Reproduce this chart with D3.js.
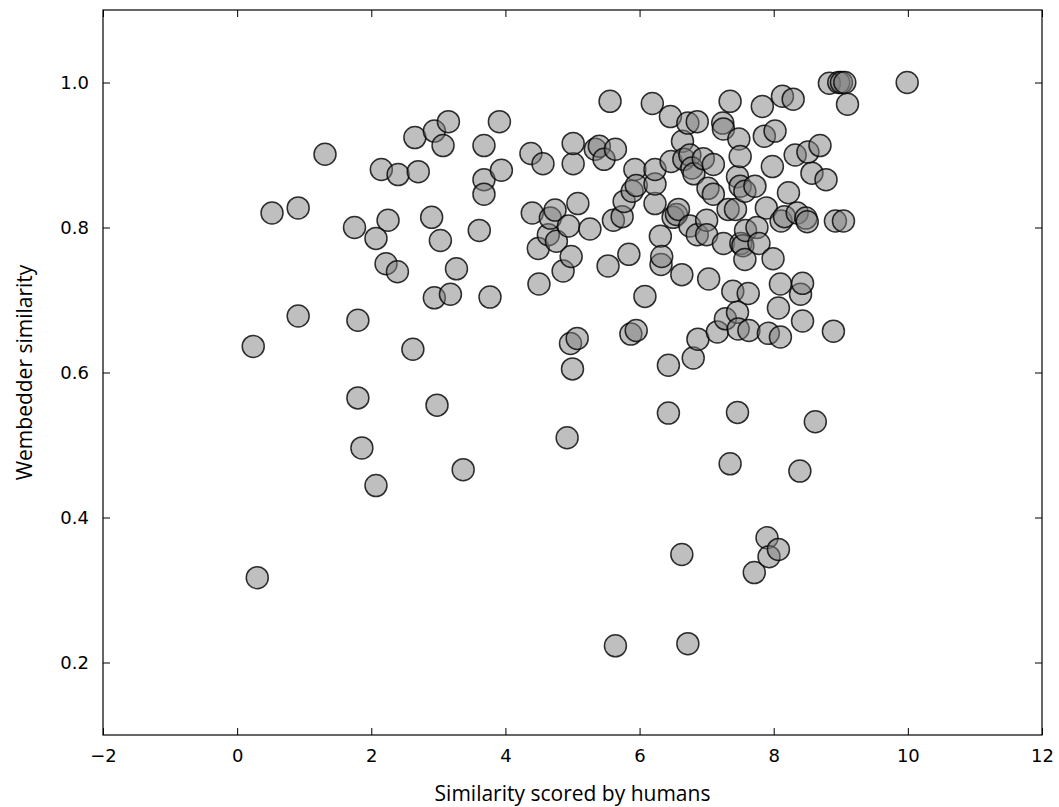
<!DOCTYPE html>
<html>
<head>
<meta charset="utf-8">
<script src="https://cdn.jsdelivr.net/npm/d3@7"></script>
<style>
  body { margin: 0; background: #fff; }
  .tick-label { font-family: "DejaVu Sans", sans-serif; font-size: 18px; fill: #000; }
  .axis-title { font-family: "Open Sans", sans-serif; font-size: 21px; fill: #000; }
</style>
</head>
<body>
<div id="chart"></div>
<script>
// data
const humanScores = [
  0.24, 0.30, 0.52, 0.91, 0.91, 1.31, 1.75, 1.80, 1.80, 1.86, 2.07, 2.07, 2.15, 2.22, 2.25, 2.39, 2.40, 2.70,
  2.62, 2.65, 2.90, 2.94, 2.94, 2.98, 3.03, 3.07, 3.15, 3.18, 3.27, 3.37, 3.61, 3.68, 3.68, 3.68, 3.77, 3.91,
  3.94, 4.38, 4.40, 4.49, 4.50, 4.56, 4.64, 4.67, 4.74, 4.76, 4.86, 4.92, 4.94, 4.97, 4.98, 5.00, 5.01, 5.01,
  5.07, 5.08, 5.26, 5.34, 5.40, 5.47, 5.53, 5.56, 5.61, 5.64, 5.64, 5.74, 5.77, 5.84, 5.87, 5.89, 5.93, 5.95,
  5.95, 6.08, 6.19, 6.23, 6.23, 6.23, 6.31, 6.32, 6.33, 6.43, 6.43, 6.46, 6.47, 6.50, 6.55, 6.58, 6.63, 6.63,
  6.64, 6.66, 6.72, 6.72, 6.75, 6.75, 6.78, 6.80, 6.81, 6.86, 6.86, 6.87, 6.95, 7.00, 7.00, 7.02, 7.03, 7.10,
  7.10, 7.16, 7.24, 7.25, 7.25, 7.28, 7.32, 7.35, 7.35, 7.39, 7.43, 7.46, 7.46, 7.46, 7.47, 7.48, 7.50, 7.50,
  7.51, 7.54, 7.57, 7.57, 7.58, 7.62, 7.63, 7.71, 7.72, 7.75, 7.78, 7.83, 7.86, 7.89, 7.90, 7.92, 7.93, 7.98,
  7.99, 8.02, 8.07, 8.07, 8.10, 8.10, 8.11, 8.13, 8.16, 8.22, 8.29, 8.32, 8.35, 8.39, 8.40, 8.43, 8.43, 8.48,
  8.50, 8.51, 8.57, 8.62, 8.69, 8.78, 8.83, 8.89, 8.92, 8.97, 9.01, 9.06, 9.04, 9.10, 9.99
];
const wembedderScores = [
  0.636, 0.317, 0.820, 0.827, 0.678, 0.901, 0.800, 0.672, 0.565, 0.496, 0.444, 0.785, 0.880, 0.750, 0.810, 0.739, 0.873, 0.877,
  0.632, 0.924, 0.814, 0.933, 0.703, 0.555, 0.782, 0.913, 0.946, 0.708, 0.743, 0.466, 0.796, 0.913, 0.866, 0.846, 0.704, 0.946,
  0.879, 0.902, 0.820, 0.771, 0.722, 0.888, 0.790, 0.813, 0.824, 0.781, 0.740, 0.510, 0.802, 0.640, 0.760, 0.605, 0.888, 0.916,
  0.647, 0.833, 0.798, 0.908, 0.912, 0.894, 0.747, 0.974, 0.810, 0.908, 0.223, 0.815, 0.836, 0.763, 0.653, 0.850, 0.880, 0.858,
  0.658, 0.705, 0.971, 0.833, 0.860, 0.880, 0.788, 0.749, 0.760, 0.610, 0.544, 0.953, 0.891, 0.814, 0.818, 0.825, 0.735, 0.349,
  0.919, 0.894, 0.944, 0.226, 0.802, 0.900, 0.882, 0.620, 0.874, 0.946, 0.790, 0.646, 0.895, 0.810, 0.790, 0.854, 0.729, 0.887,
  0.846, 0.656, 0.944, 0.936, 0.778, 0.674, 0.825, 0.974, 0.474, 0.712, 0.825, 0.870, 0.683, 0.545, 0.660, 0.922, 0.898, 0.857,
  0.778, 0.775, 0.850, 0.756, 0.796, 0.709, 0.658, 0.324, 0.857, 0.800, 0.778, 0.967, 0.926, 0.827, 0.372, 0.654, 0.346, 0.884,
  0.757, 0.933, 0.356, 0.689, 0.722, 0.649, 0.809, 0.981, 0.815, 0.848, 0.977, 0.900, 0.820, 0.464, 0.708, 0.723, 0.671, 0.813,
  0.808, 0.904, 0.875, 0.532, 0.913, 0.866, 0.999, 0.657, 0.809, 1.000, 1.000, 1.000, 0.809, 0.970, 1.000
];
const xTicks = [-2, 0, 2, 4, 6, 8, 10, 12];
const yTicks = [0.2, 0.4, 0.6, 0.8, 1.0];

const width = 1059, height = 807;
const margin = { top: 10, right: 17, bottom: 72, left: 103 };
const innerW = width - margin.left - margin.right;
const innerH = height - margin.top - margin.bottom;

const svg = d3.select("#chart").append("svg")
    .attr("width", width)
    .attr("height", height);

const g = svg.append("g")
    .attr("transform", `translate(${margin.left},${margin.top})`);

const x = d3.scaleLinear().domain([-2, 12]).range([0, innerW]);
const y = d3.scaleLinear().domain([0.1, 1.1]).range([innerH, 0]);

const points = humanScores.map((h, i) => ({ h: h, w: wembedderScores[i] }));

// 점 찍기
g.append("g")
    .selectAll("circle")
    .data(points)
    .enter().append("circle")
    .attr("cx", d => x(d.h))
    .attr("cy", d => y(d.w))
    .attr("r", 11)
    .attr("fill", "#808080")
    .attr("fill-opacity", 0.5)
    .attr("stroke", "#000")
    .attr("stroke-opacity", 0.8)
    .attr("stroke-width", 1.5);

// 축 (matplotlib classic style: ticks inside, on all sides)
const minus = d => d3.format("")(d).replace("-", "\u2212");

g.append("g")
    .attr("transform", `translate(0,${innerH})`)
    .call(d3.axisBottom(x).tickValues(xTicks).tickSizeInner(-7).tickSizeOuter(0).tickPadding(14).tickFormat(minus))
    .call(a => a.select(".domain").remove())
    .call(a => a.selectAll("text").attr("class", "tick-label").attr("font-size", null).attr("font-family", null));

g.append("g")
    .call(d3.axisTop(x).tickValues(xTicks).tickSizeInner(-7).tickSizeOuter(0).tickFormat(""))
    .call(a => a.select(".domain").remove());

g.append("g")
    .call(d3.axisLeft(y).tickValues(yTicks).tickSizeInner(-7).tickSizeOuter(0).tickPadding(14).tickFormat(d3.format(".1f")))
    .call(a => a.select(".domain").remove())
    .call(a => a.selectAll("text").attr("class", "tick-label").attr("font-size", null).attr("font-family", null));

g.append("g")
    .attr("transform", `translate(${innerW},0)`)
    .call(d3.axisRight(y).tickValues(yTicks).tickSizeInner(-7).tickSizeOuter(0).tickFormat(""))
    .call(a => a.select(".domain").remove());

g.selectAll(".tick line").attr("stroke", "#000").attr("stroke-width", 1);

g.append("rect")
    .attr("width", innerW)
    .attr("height", innerH)
    .attr("fill", "none")
    .attr("stroke", "#000")
    .attr("stroke-width", 1.2);

// 축 제목
svg.append("text")
    .attr("class", "axis-title")
    .attr("x", margin.left + innerW / 2)
    .attr("y", 801)
    .attr("text-anchor", "middle")
    .text("Similarity scored by humans");

svg.append("text")
    .attr("class", "axis-title")
    .attr("transform", `translate(32,${margin.top + innerH / 2}) rotate(-90)`)
    .attr("text-anchor", "middle")
    .text("Wembedder similarity");
</script>
</body>
</html>
